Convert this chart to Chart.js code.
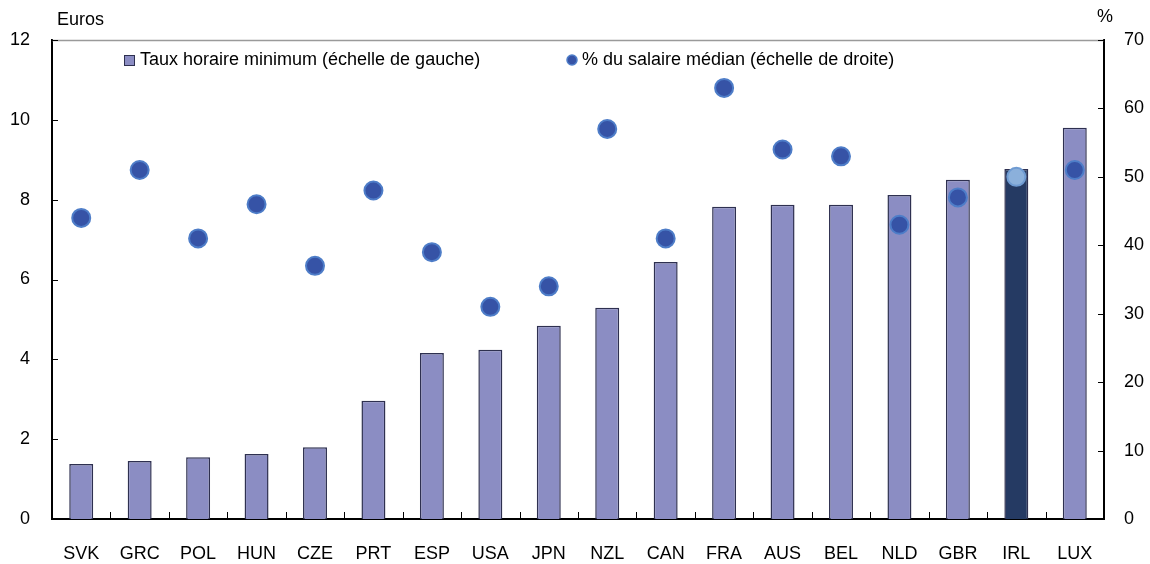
<!DOCTYPE html>
<html>
<head>
<meta charset="utf-8">
<script src="https://cdn.jsdelivr.net/npm/chart.js@4"></script>
<style>
  html, body { margin: 0; padding: 0; background: #fff; }
  #wrap { width: 1150px; height: 564px; }
</style>
</head>
<body>
<div id="wrap"><canvas id="c" width="1150" height="564"></canvas></div>
<script>
// Minimum wage per country
const countries = ['SVK','GRC','POL','HUN','CZE','PRT','ESP','USA','JPN','NZL','CAN','FRA','AUS','BEL','NLD','GBR','IRL','LUX'];
const hourlyMinimum = [1.38,1.45,1.55,1.63,1.80,2.96,4.16,4.24,4.84,5.29,6.44,7.82,7.87,7.87,8.12,8.50,8.77,9.80];
const pctOfMedian = [44,51,41,46,37,48,39,31,34,57,41,63,54,53,43,47,50,51];
const leftTicks = [0,2,4,6,8,10,12];
const rightTicks = [0,10,20,30,40,50,60,70];

const labelBar = 'Taux horaire minimum (échelle de gauche)';
const labelDot = '% du salaire médian (échelle de droite)';

const BAR = '#8B8DC3';
const BAR_EDGE = '#2E3050';
const BAR_HL = '#253A63';
const DOT = '#3653A6';
const DOT_EDGE = '#4E7DC8';
const DOT_HL = '#8BB0DB';
const DOT_HL_EDGE = '#6F9BD2';

const hl = 'IRL';
const FONT = '"Liberation Sans", Arial, sans-serif';

const overlay = {
  id: 'overlay',
  afterDraw(chart) {
    const ctx = chart.ctx;
    const a = chart.chartArea;
    const x = chart.scales.x, y = chart.scales.y, y2 = chart.scales.y2;
    ctx.save();
    // top frame line
    ctx.strokeStyle = '#9a9a9a';
    ctx.lineWidth = 1.5;
    ctx.beginPath();
    ctx.moveTo(a.left, a.top + 0.5);
    ctx.lineTo(a.right, a.top + 0.5);
    ctx.stroke();
    // inward tick marks
    ctx.strokeStyle = '#000';
    ctx.lineWidth = 1;
    leftTicks.forEach(v => {
      const py = Math.round(y.getPixelForValue(v)) + 0.5;
      ctx.beginPath(); ctx.moveTo(a.left, py); ctx.lineTo(a.left + 6, py); ctx.stroke();
    });
    rightTicks.forEach(v => {
      const py = Math.round(y2.getPixelForValue(v)) + 0.5;
      ctx.beginPath(); ctx.moveTo(a.right - 6, py); ctx.lineTo(a.right, py); ctx.stroke();
    });
    const step = (a.right - a.left) / countries.length;
    for (let i = 1; i < countries.length; i++) {
      const px = Math.round(a.left + i * step) + 0.5;
      ctx.beginPath(); ctx.moveTo(px, a.bottom - 7); ctx.lineTo(px, a.bottom); ctx.stroke();
    }
    // axis unit labels
    ctx.fillStyle = '#000';
    ctx.font = '18px ' + FONT;
    ctx.textBaseline = 'middle';
    ctx.textAlign = 'left';
    ctx.fillText('Euros', 57, 20);
    ctx.fillText('%', 1097, 17);
    // legend
    ctx.fillStyle = BAR;
    ctx.fillRect(124.5, 55.5, 10, 10);
    ctx.strokeStyle = BAR_EDGE;
    ctx.lineWidth = 1;
    ctx.strokeRect(124.5, 55.5, 10, 10);
    ctx.fillStyle = '#000';
    ctx.fillText(chart.data.datasets[0].label, 140, 60);
    ctx.beginPath();
    ctx.arc(572, 60, 5, 0, Math.PI * 2);
    ctx.fillStyle = DOT;
    ctx.fill();
    ctx.strokeStyle = DOT_EDGE;
    ctx.lineWidth = 1.5;
    ctx.stroke();
    ctx.fillStyle = '#000';
    ctx.fillText(chart.data.datasets[1].label, 582, 60);
    ctx.restore();
  }
};

new Chart(document.getElementById('c'), {
  data: {
    labels: countries,
    datasets: [
      {
        type: 'bar',
        label: labelBar,
        data: hourlyMinimum,
        yAxisID: 'y',
        order: 1,
        backgroundColor: countries.map(c => c === hl ? BAR_HL : BAR),
        borderColor: BAR_EDGE,
        borderWidth: { top: 1.5, left: 1.5, right: 1.5, bottom: 0 },
        borderSkipped: 'bottom',
        categoryPercentage: 1,
        barPercentage: 0.41
      },
      {
        type: 'line',
        label: labelDot,
        data: pctOfMedian,
        yAxisID: 'y2',
        order: 0,
        showLine: false,
        pointRadius: 9,
        pointBorderWidth: 2,
        pointBackgroundColor: countries.map(c => c === hl ? DOT_HL : DOT),
        pointBorderColor: countries.map(c => c === hl ? DOT_HL_EDGE : DOT_EDGE)
      }
    ]
  },
  options: {
    responsive: false,
    animation: false,
    layout: { padding: { top: 40, left: 0, right: 0, bottom: 0 } },
    plugins: { legend: { display: false }, tooltip: { enabled: false } },
    scales: {
      x: {
        grid: { display: false },
        border: { display: true, color: '#000', width: 2 },
        ticks: { color: '#000', font: { family: FONT, size: 18 }, padding: 16, maxRotation: 0, autoSkip: false },
        afterFit(s) { s.height = 45; }
      },
      y: {
        position: 'left',
        min: 0, max: 12,
        grid: { display: false },
        border: { display: true, color: '#000', width: 2 },
        ticks: { stepSize: 2, color: '#000', font: { family: FONT, size: 18 }, padding: 14 },
        afterFit(s) { s.width = 52; }
      },
      y2: {
        position: 'right',
        min: 0, max: 70,
        grid: { display: false },
        border: { display: true, color: '#000', width: 2 },
        ticks: { stepSize: 10, color: '#000', font: { family: FONT, size: 18 }, padding: 12 },
        afterFit(s) { s.width = 46; }
      }
    }
  },
  plugins: [overlay]
});
</script>
</body>
</html>
